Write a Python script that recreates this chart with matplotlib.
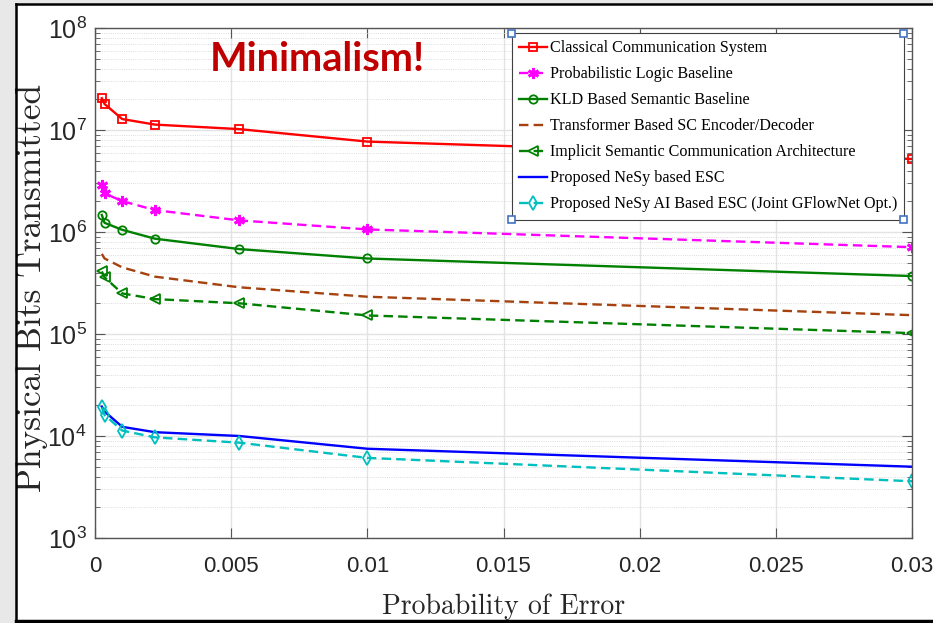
import matplotlib
matplotlib.use('Agg')
import matplotlib.pyplot as plt
from matplotlib.lines import Line2D
from matplotlib.patches import Rectangle

# ---- data ----
p_err = [0.00025, 0.00035, 0.001, 0.0022, 0.0053, 0.01, 0.03]
classical = [2.05e7, 1.8e7, 1.28e7, 1.13e7, 1.02e7, 7.7e6, 5.2e6]
prob_logic = [2.89e6, 2.39e6, 2.01e6, 1.64e6, 1.30e6, 1.06e6, 7.1e5]
kld = [1.47e6, 1.23e6, 1.05e6, 8.6e5, 6.8e5, 5.5e5, 3.7e5]
transformer = [6.1e5, 5.5e5, 4.5e5, 3.65e5, 2.87e5, 2.32e5, 1.53e5]
implicit = [4.1e5, 3.6e5, 2.5e5, 2.2e5, 2.0e5, 1.52e5, 1.02e5]
nesy = [1.94e4, 1.74e4, 1.23e4, 1.09e4, 1.0e4, 7.5e3, 5.0e3]
nesy_gfn = [1.91e4, 1.61e4, 1.13e4, 9.7e3, 8.6e3, 6.1e3, 3.6e3]

labels = ['Classical Communication System',
          'Probabilistic Logic Baseline',
          'KLD Based Semantic Baseline',
          'Transformer Based SC Encoder/Decoder',
          'Implicit Semantic Communication Architecture',
          'Proposed NeSy based ESC',
          'Proposed NeSy AI Based ESC (Joint GFlowNet Opt.)']
xticks = [0, 0.005, 0.01, 0.015, 0.02, 0.025, 0.03]
xticklabels = ['0', '0.005', '0.01', '0.015', '0.02', '0.025', '0.03']
yticks = [1e3, 1e4, 1e5, 1e6, 1e7, 1e8]
yticklabels = [r'$10^{%d}$' % e for e in range(3, 9)]

tick_font = 'Liberation Sans'
plt.rcParams['mathtext.fontset'] = 'custom'
for k in ('rm', 'it', 'bf', 'sf'):
    plt.rcParams['mathtext.' + k] = tick_font

fig = plt.figure(figsize=(9.33, 6.23), dpi=100, facecolor='white')
ax = fig.add_axes([95 / 933, 1 - 538 / 623, 817 / 933, 510 / 623])

dash = (4, 2.2)
lw = 1.7
ax.plot(p_err, classical, '-s', color='#FF0000', lw=lw, ms=5.5, mfc='none', mew=1.3)
ax.plot(p_err, prob_logic, '--', marker=(6, 2, 0), color='#FF00FF', lw=lw, ms=8, mew=2,
        dashes=dash)
ax.plot(p_err, kld, '-o', color='#008000', lw=lw, ms=6, mfc='none', mew=1.3)
ax.plot(p_err, transformer, '--', color='#A5420F', lw=lw, dashes=dash)
ax.plot(p_err, implicit, '--<', color='#008000', lw=lw, ms=7, mfc='none', mew=1.3, dashes=dash)
ax.plot(p_err, nesy, '-', color='#0000FF', lw=lw)
ax.plot(p_err, nesy_gfn, '--d', color='#00BFBF', lw=lw, ms=7.5, mfc='none', mew=1.3, dashes=dash)

ax.set_yscale('log')
ax.set_xlim(0, 0.03)
ax.set_ylim(1e3, 1e8)
ax.set_xticks(xticks)
ax.set_xticklabels(xticklabels, family=tick_font, fontsize=16, color='#262626')
ax.set_yticks(yticks)
ax.set_yticklabels(yticklabels, fontsize=18, color='#262626')

ax.grid(True, which='major', color='#e3e3e3', lw=1.0)
ax.grid(True, which='minor', axis='y', color='#d0d0d0', lw=0.6, ls=':')
ax.set_axisbelow(True)
ax.tick_params(which='both', direction='in', top=True, right=True, color='#555555')
ax.tick_params(which='major', length=7, width=0.8)
ax.tick_params(which='minor', length=3.5, width=0.6)
ax.tick_params(axis='x', pad=13)
ax.tick_params(axis='y', pad=6)
for s in ax.spines.values():
    s.set_color('#555555')
    s.set_linewidth(1.0)

ax.set_xlabel('Probability of Error', family='cmr10', fontsize=20, color='#262626')
ax.set_ylabel('Physical Bits Transmitted', family='cmr10', fontsize=25.5, color='#262626')
ax.xaxis.set_label_coords(0.5, -0.108)
ax.yaxis.set_label_coords(-0.058, 0.49)

ax.text(0.272, 0.939, 'Minimalism!', transform=ax.transAxes, ha='center', va='center',
        family='Lato', fontweight='bold', fontsize=28.5, color='#C00000')

leg = ax.legend(labels, loc='upper left', bbox_to_anchor=(0.510, 0.990, 0.480, 0.0),
                mode='expand', borderaxespad=0, numpoints=1, fancybox=False,
                framealpha=1, edgecolor='#404040', handlelength=1.75,
                handletextpad=0.2, borderpad=0.45, labelspacing=0.62,
                prop={'family': 'Liberation Serif', 'size': 11.6})
leg.get_frame().set_linewidth(0.8)
leg.set_zorder(5)

# screenshot decorations: grey margin and black frame
fig.add_artist(Rectangle((0, 0), 15 / 933, 1, transform=fig.transFigure,
                         color='#e8e8e8', zorder=-5))
fig.add_artist(Rectangle((0, 1 - 3 / 623), 1, 3 / 623, transform=fig.transFigure,
                         color='#e8e8e8', zorder=-5))
fig.add_artist(Line2D([16 / 933, 16 / 933], [2 / 623, 1 - 4 / 623],
                      transform=fig.transFigure, color='black', lw=1.8))
fig.add_artist(Line2D([16 / 933, 1], [1 - 4 / 623, 1 - 4 / 623],
                      transform=fig.transFigure, color='black', lw=1.8))
fig.add_artist(Line2D([16 / 933, 1], [2 / 623, 2 / 623],
                      transform=fig.transFigure, color='black', lw=2.5))

# selection handles on the legend corners
fig.canvas.draw()
bb = leg.get_window_extent().transformed(fig.transFigure.inverted())
hw, hh = 7 / 933, 7 / 623
for cx in (bb.x0, bb.x1):
    for cy in (bb.y0, bb.y1):
        fig.add_artist(Rectangle((cx - hw / 2, cy - hh / 2), hw, hh,
                                 transform=fig.transFigure, facecolor='white',
                                 edgecolor='#4472C4', lw=1.2, zorder=10))

fig.savefig('out.png', dpi=100, facecolor=fig.get_facecolor())
